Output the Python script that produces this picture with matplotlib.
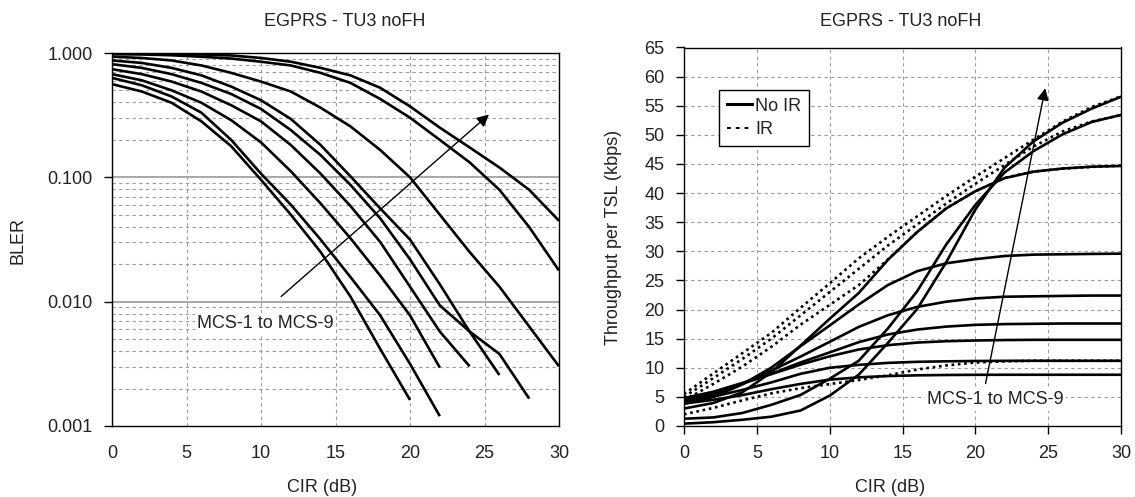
import matplotlib
matplotlib.use("Agg")
import matplotlib.pyplot as plt
from matplotlib.ticker import FixedLocator, NullFormatter
from matplotlib.lines import Line2D

plt.rcParams['font.family'] = ['Liberation Sans', 'DejaVu Sans']

# ---------------- data ----------------
cir = [0, 2, 4, 6, 8, 10, 12, 14, 16, 18, 20, 22, 24, 26, 28, 30]

# BLER per MCS (left chart), sampled every 2 dB from 0 dB
bler_mcs1 = [0.562, 0.490, 0.398, 0.282, 0.178, 0.0955, 0.0501, 0.0251, 0.0110, 0.00417, 0.00162]
bler_mcs2 = [0.631, 0.550, 0.447, 0.331, 0.200, 0.107, 0.0603, 0.0316, 0.0158, 0.00776, 0.00316, 0.00120]
bler_mcs3 = [0.676, 0.603, 0.501, 0.398, 0.288, 0.191, 0.112, 0.0617, 0.0324, 0.0162, 0.00776, 0.00295]
bler_mcs4 = [0.741, 0.676, 0.589, 0.490, 0.380, 0.282, 0.182, 0.107, 0.0589, 0.0302, 0.0132, 0.00575, 0.00302]
bler_mcs5 = [0.813, 0.759, 0.676, 0.575, 0.468, 0.355, 0.240, 0.151, 0.0871, 0.0468, 0.0219, 0.00933, 0.00575, 0.00257]
bler_mcs6 = [0.871, 0.832, 0.759, 0.661, 0.537, 0.417, 0.295, 0.182, 0.102, 0.0562, 0.0316, 0.0138, 0.00575, 0.00380, 0.00166]
bler_mcs7 = [0.933, 0.912, 0.871, 0.794, 0.692, 0.589, 0.490, 0.363, 0.257, 0.166, 0.100, 0.0501, 0.0251, 0.0132, 0.00631, 0.00302]
bler_mcs8 = [0.977, 0.973, 0.959, 0.933, 0.902, 0.851, 0.794, 0.692, 0.575, 0.427, 0.302, 0.200, 0.132, 0.0794, 0.0398, 0.0178]
bler_mcs9 = [0.993, 0.989, 0.982, 0.973, 0.955, 0.912, 0.851, 0.759, 0.661, 0.525, 0.372, 0.251, 0.174, 0.120, 0.0794, 0.0447]

# Throughput per TSL (kbps), no IR (right chart)
thr_mcs1 = [3.85, 4.49, 5.30, 6.32, 7.23, 7.96, 8.36, 8.58, 8.70, 8.76, 8.79, 8.8, 8.8, 8.8, 8.8, 8.8]
thr_mcs2 = [4.13, 5.04, 6.19, 7.49, 8.96, 10.0, 10.5, 10.84, 11.02, 11.11, 11.16, 11.19, 11.2, 11.2, 11.2, 11.2]
thr_mcs3 = [4.80, 5.88, 7.39, 8.91, 10.54, 11.97, 13.14, 13.88, 14.33, 14.56, 14.68, 14.76, 14.8, 14.8, 14.8, 14.8]
thr_mcs4 = [4.56, 5.70, 7.23, 8.98, 10.91, 12.64, 14.40, 15.72, 16.56, 17.07, 17.37, 17.50, 17.55, 17.6, 17.6, 17.6]
thr_mcs5 = [4.19, 5.40, 7.26, 9.52, 11.92, 14.45, 17.02, 19.02, 20.45, 21.35, 21.91, 22.20, 22.27, 22.34, 22.4, 22.4]
thr_mcs6 = [3.82, 4.97, 7.13, 10.03, 13.70, 17.26, 20.87, 24.21, 26.58, 27.94, 28.65, 29.19, 29.43, 29.49, 29.55, 29.6]
thr_mcs7 = [3.0, 3.94, 5.78, 9.23, 13.80, 18.41, 22.85, 28.54, 33.29, 37.36, 40.32, 42.56, 43.68, 44.22, 44.53, 44.66]
thr_mcs8 = [1.25, 1.47, 2.23, 3.64, 5.33, 8.11, 11.21, 16.76, 23.12, 31.17, 37.97, 43.52, 47.22, 50.10, 52.22, 53.42]
thr_mcs9 = [0.41, 0.65, 1.07, 1.60, 2.66, 5.21, 8.82, 14.27, 20.07, 28.12, 37.18, 44.34, 48.90, 52.10, 54.52, 56.54]

# Throughput per TSL (kbps), with IR
thr_ir_low = [2.0, 3.1, 4.4, 5.6, 6.5, 7.2, 7.9, 8.7, 9.7, 10.4, 10.9, 11.1, 11.2, 11.2, 11.2, 11.2]
thr_ir7 = [4.4, 7.2, 10.2, 13.6, 17.4, 20.8, 24.2, 28.6, 33.3, 37.4, 40.3, 42.6, 43.7, 44.2, 44.5, 44.7]
thr_ir8 = [5.0, 8.2, 11.5, 15.0, 19.0, 23.0, 27.0, 31.0, 34.6, 38.2, 41.6, 44.8, 48.0, 50.6, 52.3, 53.4]
thr_ir9 = [5.5, 9.0, 12.5, 16.0, 20.3, 24.5, 28.8, 32.5, 36.0, 39.5, 42.8, 46.0, 49.2, 52.3, 54.8, 56.6]

chart_title = "EGPRS - TU3 noFH"
x_label = "CIR (dB)"
left_ylabel = "BLER"
right_ylabel = "Throughput per TSL (kbps)"
note = "MCS-1 to MCS-9"
legend_labels = ["No IR", "IR"]
x_ticks = [0, 5, 10, 15, 20, 25, 30]
bler_ticks = [0.001, 0.01, 0.1, 1.0]
bler_tick_labels = ["0.001", "0.010", "0.100", "1.000"]
thr_ticks = list(range(0, 66, 5))

# ---------------- layout ----------------
W, H = 1135, 497
fig = plt.figure(figsize=(W / 100, H / 100), dpi=100)
FS = 13
TXT = '#222222'
GRID = '#9a9a9a'
DASH = (0, (3, 3))


def px_axes(x0, y0, x1, y1):
    return fig.add_axes([x0 / W, 1 - y1 / H, (x1 - x0) / W, (y1 - y0) / H])


axL = px_axes(112, 53, 559, 426)
axR = px_axes(684, 47.5, 1121, 426)

# ---------------- left chart ----------------
bler_all = [bler_mcs1, bler_mcs2, bler_mcs3, bler_mcs4, bler_mcs5,
            bler_mcs6, bler_mcs7, bler_mcs8, bler_mcs9]
for b in bler_all:
    axL.plot(cir[:len(b)], b, color='black', lw=1.9, solid_joinstyle='round',
             solid_capstyle='butt', zorder=3)

axL.set_yscale('log')
axL.set_xlim(0, 30)
axL.set_ylim(0.001, 1.0)
axL.yaxis.set_major_locator(FixedLocator(bler_ticks))
axL.set_yticklabels(bler_tick_labels)
minor = [m * 10.0 ** e for e in (-3, -2, -1) for m in range(2, 10)]
axL.yaxis.set_minor_locator(FixedLocator(minor))
axL.yaxis.set_minor_formatter(NullFormatter())
axL.xaxis.set_major_locator(FixedLocator(x_ticks))
for y in minor:
    axL.axhline(y, color=GRID, lw=0.8, ls=DASH, zorder=1)
for y in (0.01, 0.1):
    axL.axhline(y, color=GRID, lw=1.2, zorder=1)
for x in x_ticks[1:-1]:
    axL.axvline(x, color=GRID, lw=0.8, ls=DASH, zorder=1)
axL.tick_params(axis='y', which='major', direction='out', length=6, width=1,
                pad=8, labelsize=FS, labelcolor=TXT)
axL.tick_params(axis='y', which='minor', length=0)
axL.tick_params(axis='x', direction='out', length=0, pad=14,
                labelsize=FS, labelcolor=TXT)

axL.annotate('', xy=(25.3, 0.32), xytext=(11.35, 0.011),
             arrowprops=dict(arrowstyle='-|>', color='black', lw=1.0,
                             mutation_scale=18, shrinkA=0, shrinkB=0), zorder=5)
axL.text(10.3, 0.0067, note, ha='center', va='center', fontsize=FS, color=TXT,
         bbox=dict(facecolor='white', edgecolor='none', pad=1.5), zorder=6)

# ---------------- right chart ----------------
thr_all = [thr_mcs1, thr_mcs2, thr_mcs3, thr_mcs4, thr_mcs5,
           thr_mcs6, thr_mcs7, thr_mcs8, thr_mcs9]
ir_all = [thr_ir_low, thr_ir7, thr_ir8, thr_ir9]
IRSTYLE = (0, (1.0, 1.4))
for t in ir_all:
    axR.plot(cir[:len(t)], t, color='black', lw=1.9, ls=IRSTYLE, zorder=3)
for t in thr_all:
    axR.plot(cir[:len(t)], t, color='black', lw=1.9, solid_joinstyle='round', zorder=4)

axR.set_xlim(0, 30)
axR.set_ylim(0, 65)
axR.xaxis.set_major_locator(FixedLocator(x_ticks))
axR.yaxis.set_major_locator(FixedLocator(thr_ticks))
for y in thr_ticks[1:-1]:
    axR.axhline(y, color=GRID, lw=0.8, ls=DASH, zorder=1)
for x in x_ticks[1:-1]:
    axR.axvline(x, color=GRID, lw=0.8, ls=DASH, zorder=1)
axR.tick_params(axis='both', direction='out', length=6, width=1,
                labelsize=FS, labelcolor=TXT)
axR.tick_params(axis='y', pad=8)
axR.tick_params(axis='x', pad=8)

axR.annotate('', xy=(24.8, 58.0), xytext=(20.7, 7.3),
             arrowprops=dict(arrowstyle='-|>', color='black', lw=1.0,
                             mutation_scale=18, shrinkA=0, shrinkB=0), zorder=5)
axR.text(21.4, 4.47, note, ha='center', va='center', fontsize=FS, color=TXT,
         bbox=dict(facecolor='white', edgecolor='none', pad=1.5), zorder=6)

handles = [Line2D([], [], color='black', lw=2.2),
           Line2D([], [], color='black', lw=1.4, ls=(0, (2, 2.5)))]
leg = axR.legend(handles, legend_labels, loc='upper left',
                 bbox_to_anchor=(0.08, 0.889), borderaxespad=0, fontsize=FS,
                 handlelength=1.4, handletextpad=0.15, borderpad=0.45,
                 labelspacing=0.35, fancybox=False, framealpha=1,
                 edgecolor='black')
leg.get_frame().set_linewidth(1.0)
for t in leg.get_texts():
    t.set_color(TXT)

for ax in (axL, axR):
    for s in ax.spines.values():
        s.set_color('black')
        s.set_linewidth(1.0)

# ---------------- titles and labels ----------------
fig.text(345 / W, 1 - 21.7 / H, chart_title, ha='center', va='center', fontsize=FS, color=TXT)
fig.text(901 / W, 1 - 21.7 / H, chart_title, ha='center', va='center', fontsize=FS, color=TXT)
fig.text(322 / W, 1 - 487 / H, x_label, ha='center', va='center', fontsize=FS, color=TXT)
fig.text(890 / W, 1 - 487 / H, x_label, ha='center', va='center', fontsize=FS, color=TXT)
fig.text(18 / W, 1 - 240 / H, left_ylabel, ha='center', va='center', rotation=90,
         fontsize=FS, color=TXT)
fig.text(613 / W, 1 - 237 / H, right_ylabel, ha='center', va='center', rotation=90,
         fontsize=FS, color=TXT)

fig.savefig('out.png', dpi=100, facecolor='white')
